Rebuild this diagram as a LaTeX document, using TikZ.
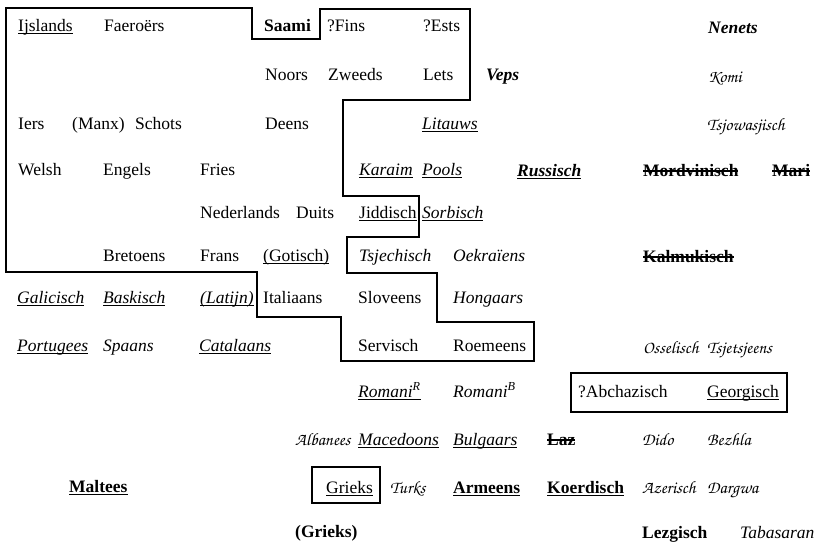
\documentclass[tikz,border=0pt]{standalone}
\usepackage[T1]{fontenc}
\usepackage{fontspec}
\setmainfont{Liberation Serif}
\newcommand\undl[1]{\setbox0\hbox{#1}\rlap{\rule[-3pt]{\wd0}{1.3pt}}\box0}
\newcommand\strk[1]{\setbox0\hbox{#1}\rlap{\rule[4.4pt]{\wd0}{1.4pt}}\box0}
\newcommand\hwfont{\fontencoding{T1}\fontfamily{pzc}\fontseries{mb}\fontshape{it}\fontsize{17.5}{21}\selectfont}
\begin{document}
\begin{tikzpicture}[x=1pt,y=-1pt,
  lab/.style={anchor=base west, inner sep=0pt, font=\fontsize{17.5}{21}\selectfont},
  hw/.style={anchor=base west, inner sep=0pt, font=\hwfont},
  border/.style={line width=1.8pt, line join=miter}]
\useasboundingbox (0,0) rectangle (819,542);
% main border
\draw[border] (6,8) -- (252,8) -- (252,39) -- (320,39) -- (320,9) -- (470,9) -- (470,100)
  -- (343,100) -- (343,196) -- (419,196) -- (419,237) -- (347,237) -- (347,273)
  -- (437,273) -- (437,322) -- (534,322) -- (534,361) -- (341,361) -- (341,317)
  -- (257,317) -- (257,272) -- (6,272) -- cycle;
% boxes
\draw[border] (571,373) rectangle (787,412);
\draw[border] (312,467) rectangle (380,503);
% row 1
\node[lab] (ijslands) at (18,31) {\undl{Ijslands}};
\node[lab] (faeroers) at (104,31) {Faeroërs};
\node[lab] (saami) at (264,31) {\textbf{Saami}};
\node[lab] (fins) at (327,31) {?Fins};
\node[lab] (ests) at (423,31) {?Ests};
\node[lab] (nenets) at (708,33) {\textbf{\textit{Nenets}}};
% row 2
\node[lab] (noors) at (265,80) {Noors};
\node[lab] (zweeds) at (328,80) {Zweeds};
\node[lab] (lets) at (423,80) {Lets};
\node[lab] (veps) at (486,80) {\textbf{\textit{Veps}}};
\node[hw] (komi) at (708,82) {Komi};
% row 3
\node[lab] (iers) at (18,129) {Iers};
\node[lab] (manx) at (72,129) {(Manx)};
\node[lab] (schots) at (135,129) {Schots};
\node[lab] (deens) at (265,129) {Deens};
\node[lab] (litauws) at (422,129) {\undl{\textit{Litauws}}};
\node[hw] (tsjowasjisch) at (707,130) {Tsjowasjisch};
% row 4
\node[lab] (welsh) at (18,175) {Welsh};
\node[lab] (engels) at (103,175) {Engels};
\node[lab] (fries) at (200,175) {Fries};
\node[lab] (karaim) at (359,175) {\undl{\textit{Karaim}}};
\node[lab] (pools) at (422,175) {\undl{\textit{Pools}}};
\node[lab] (russisch) at (517,176) {\undl{\textbf{\textit{Russisch}}}};
\node[lab] (mordvinisch) at (643,176) {\strk{\textbf{Mordvinisch}}};
\node[lab] (mari) at (772,176) {\strk{\textbf{Mari}}};
% row 5
\node[lab] (nederlands) at (200,218) {Nederlands};
\node[lab] (duits) at (296,218) {Duits};
\node[lab] (jiddisch) at (359,218) {\undl{Jiddisch}};
\node[lab] (sorbisch) at (422,218) {\undl{\textit{Sorbisch}}};
% row 6
\node[lab] (bretoens) at (103,261) {Bretoens};
\node[lab] (frans) at (200,261) {Frans};
\node[lab] (gotisch) at (263,261) {\undl{(Gotisch)}};
\node[lab] (tsjechisch) at (359,261) {\textit{Tsjechisch}};
\node[lab] (oekraiens) at (453,261) {\textit{Oekraïens}};
\node[lab] (kalmukisch) at (643,262) {\strk{\textbf{Kalmukisch}}};
% row 7
\node[lab] (galicisch) at (17,303) {\undl{\textit{Galicisch}}};
\node[lab] (baskisch) at (103,303) {\undl{\textit{Baskisch}}};
\node[lab] (latijn) at (200,303) {\undl{\textit{(Latijn)}}};
\node[lab] (italiaans) at (263,303) {Italiaans};
\node[lab] (sloveens) at (358,303) {Sloveens};
\node[lab] (hongaars) at (453,303) {\textit{Hongaars}};
% row 8
\node[lab] (portugees) at (17,351) {\undl{\textit{Portugees}}};
\node[lab] (spaans) at (103,351) {\textit{Spaans}};
\node[lab] (catalaans) at (199,351) {\undl{\textit{Catalaans}}};
\node[lab] (servisch) at (358,351) {Servisch};
\node[lab] (roemeens) at (453,351) {Roemeens};
\node[hw] (osselisch) at (643,353) {Osselisch};
\node[hw] (tsjetsjeens) at (707,353) {Tsjetsjeens};
% row 9
\node[lab] (romaniR) at (358,397) {\undl{\textit{Romani\textsuperscript{R}}}};
\node[lab] (romaniB) at (453,397) {\textit{Romani\textsuperscript{B}}};
\node[lab] (abchazisch) at (578,397) {?Abchazisch};
\node[lab] (georgisch) at (707,397) {\undl{Georgisch}};
% row 10
\node[hw] (albanees) at (295,445) {Albanees};
\node[lab] (macedoons) at (358,445) {\undl{\textit{Macedoons}}};
\node[lab] (bulgaars) at (453,445) {\undl{\textit{Bulgaars}}};
\node[lab] (laz) at (547,445) {\strk{\textbf{Laz}}};
\node[hw] (dido) at (642,445) {Dido};
\node[hw] (bezhla) at (707,445) {Bezhla};
% row 11
\node[lab] (maltees) at (69,492) {\undl{\textbf{Maltees}}};
\node[lab] (grieks) at (326,493) {\undl{Grieks}};
\node[hw] (turks) at (390,493) {Turks};
\node[lab] (armeens) at (453,493) {\undl{\textbf{Armeens}}};
\node[lab] (koerdisch) at (547,493) {\undl{\textbf{Koerdisch}}};
\node[hw] (azerisch) at (642,493) {Azerisch};
\node[hw] (dargwa) at (707,493) {Dargwa};
% row 12
\node[lab] (griekshist) at (295,537) {\textbf{(Grieks)}};
\node[lab] (lezgisch) at (642,538) {\textbf{Lezgisch}};
\node[lab] (tabasaran) at (740,538) {\textit{Tabasaran}};
\end{tikzpicture}
\end{document}
